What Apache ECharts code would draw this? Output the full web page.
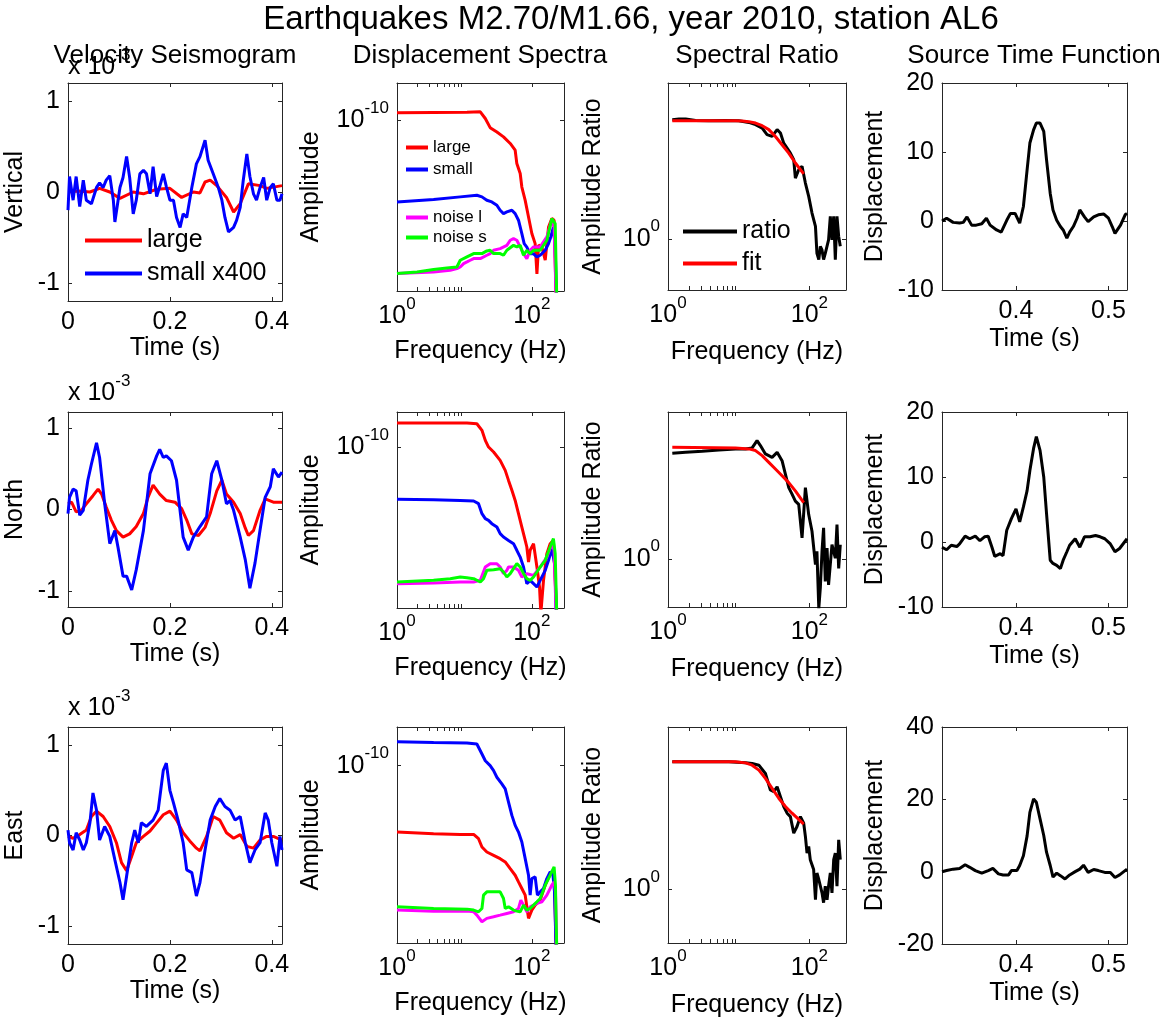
<!DOCTYPE html>
<html><head><meta charset="utf-8">
<script src="https://cdn.jsdelivr.net/npm/echarts@6/dist/echarts.min.js"></script>
<style>html,body{margin:0;padding:0;background:#fff;}#c{width:1162px;height:1019px;}</style>
</head><body><div id="c"></div>
<script>
// ---------------- DATA ----------------
// Velocity seismograms (time s, velocity x1e-3)
const vertLarge = [[0,0],[0.02,0.01],[0.043,0],[0.062,0.04],[0.082,0],[0.102,-0.07],[0.128,0],[0.148,-0.02],[0.174,0.03],[0.2,0.04],[0.223,-0.06],[0.246,0],[0.259,-0.01],[0.269,0.11],[0.279,0.13],[0.292,0.07],[0.311,-0.06],[0.325,-0.22],[0.338,-0.13],[0.354,0.09],[0.377,0.07],[0.39,0.04],[0.42,0.07]];
const vertSmall = [[0,-0.2],[0.003,0.17],[0.01,-0.09],[0.016,0.17],[0.023,-0.16],[0.03,0.13],[0.036,-0.09],[0.046,-0.13],[0.056,0.05],[0.062,0.1],[0.069,0.05],[0.075,0.13],[0.082,0.18],[0.089,-0.09],[0.092,-0.33],[0.102,0.05],[0.108,0.16],[0.115,0.39],[0.121,0.16],[0.128,-0.24],[0.134,-0.09],[0.141,0.2],[0.148,0.24],[0.154,0.2],[0.161,-0.02],[0.167,0.28],[0.174,-0.05],[0.18,0.06],[0.187,0.2],[0.193,0.06],[0.2,-0.09],[0.207,-0.09],[0.213,-0.28],[0.22,-0.39],[0.226,-0.24],[0.233,-0.28],[0.243,0.05],[0.252,0.31],[0.259,0.39],[0.269,0.57],[0.275,0.35],[0.285,0.2],[0.295,0.05],[0.302,-0.09],[0.308,-0.28],[0.315,-0.44],[0.325,-0.39],[0.331,-0.31],[0.338,-0.17],[0.344,0.13],[0.351,0.42],[0.357,0.17],[0.364,-0.02],[0.37,-0.09],[0.377,0.05],[0.384,0.16],[0.39,-0.09],[0.397,0.05],[0.403,0.09],[0.41,-0.09],[0.416,-0.09],[0.42,-0.02]];
const northLarge = [[0,0.07],[0.007,0.09],[0.016,-0.03],[0.026,-0.01],[0.036,0.07],[0.049,0.17],[0.059,0.25],[0.066,0.19],[0.075,0.03],[0.085,-0.13],[0.095,-0.26],[0.108,-0.34],[0.121,-0.3],[0.134,-0.21],[0.148,-0.05],[0.157,0.15],[0.167,0.3],[0.18,0.19],[0.193,0.11],[0.21,0.09],[0.223,0.01],[0.233,-0.13],[0.243,-0.3],[0.256,-0.32],[0.269,-0.22],[0.279,-0.05],[0.292,0.23],[0.302,0.36],[0.311,0.19],[0.325,0.09],[0.338,-0.05],[0.348,-0.23],[0.354,-0.32],[0.364,-0.26],[0.377,-0.01],[0.387,0.13],[0.403,0.09],[0.42,0.09]];
const northSmall = [[0,-0.05],[0.003,0.15],[0.01,0.25],[0.016,0.23],[0.023,-0.07],[0.03,-0.01],[0.039,0.36],[0.046,0.56],[0.056,0.82],[0.062,0.64],[0.072,0.07],[0.082,-0.42],[0.092,-0.26],[0.098,-0.46],[0.108,-0.82],[0.115,-0.82],[0.125,-0.99],[0.134,-0.74],[0.148,-0.26],[0.161,0.44],[0.174,0.66],[0.18,0.74],[0.187,0.64],[0.193,0.66],[0.203,0.6],[0.213,0.36],[0.226,-0.34],[0.236,-0.5],[0.246,-0.34],[0.259,-0.21],[0.272,-0.09],[0.282,0.44],[0.292,0.6],[0.302,0.36],[0.311,0.07],[0.318,0.11],[0.325,-0.01],[0.338,-0.34],[0.348,-0.62],[0.357,-0.97],[0.367,-0.66],[0.377,-0.25],[0.387,0.15],[0.397,0.28],[0.403,0.5],[0.413,0.4],[0.42,0.46]];
const eastLarge = [[0,-0.01],[0.01,-0.03],[0.023,0.01],[0.036,0.06],[0.046,0.21],[0.056,0.27],[0.069,0.21],[0.082,0.1],[0.095,-0.08],[0.105,-0.3],[0.115,-0.39],[0.125,-0.23],[0.134,-0.08],[0.148,-0.01],[0.161,0.05],[0.174,0.14],[0.187,0.23],[0.2,0.27],[0.213,0.17],[0.226,0.03],[0.239,-0.06],[0.252,-0.14],[0.259,-0.17],[0.272,-0.01],[0.285,0.21],[0.298,0.17],[0.311,0.03],[0.325,-0.03],[0.338,0.01],[0.351,-0.12],[0.364,-0.14],[0.377,-0.05],[0.39,-0.01],[0.403,-0.01],[0.42,-0.05]];
const eastSmall = [[0,0.06],[0.003,-0.08],[0.01,-0.16],[0.016,0.03],[0.023,-0.05],[0.03,-0.16],[0.036,-0.08],[0.043,0.14],[0.049,0.47],[0.056,0.28],[0.062,-0.05],[0.072,0.1],[0.082,-0.01],[0.092,-0.27],[0.102,-0.52],[0.108,-0.71],[0.115,-0.45],[0.125,-0.08],[0.131,0.06],[0.138,-0.08],[0.144,0.14],[0.154,0.1],[0.167,0.17],[0.177,0.28],[0.187,0.72],[0.193,0.8],[0.2,0.5],[0.207,0.36],[0.216,0.17],[0.226,-0.08],[0.233,-0.38],[0.243,-0.41],[0.252,-0.67],[0.259,-0.52],[0.269,-0.16],[0.279,0.17],[0.289,0.32],[0.298,0.41],[0.308,0.32],[0.318,0.28],[0.328,0.17],[0.338,0.21],[0.348,-0.08],[0.357,-0.3],[0.367,-0.16],[0.377,-0.08],[0.387,0.25],[0.393,0.17],[0.4,-0.08],[0.41,-0.34],[0.416,-0.01],[0.42,-0.16]];

// Displacement spectra (frequency Hz, amplitude)
const specVertLarge = [[1,1.35e-10],[3.49,1.37e-10],[10.9,1.38e-10],[17.2,1.4e-10],[20.4,1.07e-10],[24.1,7.4e-11],[30.3,6.2e-11],[38,5.1e-11],[47.8,3.9e-11],[56.6,2.97e-11],[59.9,1.73e-11],[67.2,1.16e-11],[71.1,6.7e-12],[79.7,3.9e-12],[89.3,2.0e-12],[100,1.02e-12],[112,6.8e-13],[119,2.0e-13],[126,6.4e-13],[141,5.9e-13],[158,3.5e-13],[177,1.33e-12],[198,1.87e-12],[214,1.75e-12],[229,8e-14]];
const specVertSmall = [[1,3.67e-12],[3.49,4.04e-12],[8.67,4.5e-12],[15.3,4.81e-12],[18.2,4.5e-12],[21.5,3.93e-12],[25.5,3.67e-12],[30.3,3.21e-12],[33.9,2.62e-12],[38,2.29e-12],[42.6,2.45e-12],[50.6,2.62e-12],[56.6,2.29e-12],[63.4,1.75e-12],[71.1,1.02e-12],[77,6.8e-13],[84.3,5.9e-13],[94.4,4.5e-13],[106,4.5e-13],[119,3.97e-13],[133,4.24e-13],[158,5.19e-13],[177,6.8e-13],[191,8.9e-13],[209,1.33e-12],[222,5.9e-13],[234,5e-14]];
const specVertNoiseL = [[1,2.02e-13],[3.49,2.16e-13],[6.17,2.31e-13],[7.74,2.47e-13],[8.67,2.64e-13],[9.72,3.03e-13],[10.9,3.24e-13],[12.2,3.47e-13],[13.7,3.71e-13],[17.2,3.71e-13],[21.5,4.24e-13],[24.1,4.54e-13],[27.1,5.19e-13],[33.9,5.55e-13],[42.6,6.35e-13],[47.8,7.78e-13],[53.5,8.3e-13],[59.9,7.78e-13],[67.2,5.94e-13],[75.3,4.54e-13],[84.3,3.71e-13],[94.4,5.19e-13],[106,5.94e-13],[133,5.94e-13],[167,8.9e-13],[198,1.75e-12],[214,1.33e-12],[229,8e-14]];
const specVertNoiseS = [[1,2.02e-13],[1.98,2.16e-13],[3.49,2.38e-13],[5.5,2.54e-13],[7.74,2.64e-13],[8.67,3.47e-13],[10.9,3.97e-13],[13.7,4.54e-13],[18.2,4.54e-13],[21.5,5.06e-13],[24.1,5.19e-13],[27.1,4.54e-13],[33.9,4.54e-13],[38,4.24e-13],[42.6,5.19e-13],[53.5,6.35e-13],[59.9,5.94e-13],[67.2,6.35e-13],[75.3,4.24e-13],[84.3,5.19e-13],[94.4,4.54e-13],[106,5.19e-13],[133,5.19e-13],[167,7.78e-13],[198,1.87e-12],[222,1.53e-12],[234,8e-14]];
const specNorthLarge = [[1,2.8e-10],[3.49,2.8e-10],[10.9,2.8e-10],[15.3,2.72e-10],[18.2,2.05e-10],[20.4,1.33e-10],[22.8,1.0e-10],[27.1,8.07e-11],[33.9,5.64e-11],[40.3,3.67e-11],[45.1,2.39e-11],[50.6,1.56e-11],[56.6,1.01e-11],[63.4,5.73e-12],[71.1,3.23e-12],[79.7,1.82e-12],[84.3,1.37e-12],[89.3,7.2e-13],[94.4,1.19e-12],[106,1.58e-12],[119,5.8e-13],[130,2.46e-13],[136,8e-14],[149,3.28e-13],[167,1.03e-12],[187,1.58e-12],[209,1.82e-12],[222,3.28e-13],[234,8e-14]];
const specNorthSmall = [[1,1.06e-11],[3.49,1.04e-11],[8.67,1.01e-11],[13.7,9.86e-12],[16.2,8.8e-12],[18.2,5.73e-12],[20.4,4.62e-12],[22.8,4.3e-12],[25.5,3.73e-12],[30.3,3.23e-12],[33.9,2.43e-12],[38,2.1e-12],[45.1,1.82e-12],[53.5,1.58e-12],[59.9,1.19e-12],[67.2,8.9e-13],[75.3,5.8e-13],[84.3,2.84e-13],[94.4,3.28e-13],[106,2.84e-13],[119,2.46e-13],[133,3.28e-13],[158,5.03e-13],[177,7.73e-13],[198,1.28e-12],[209,1.37e-12],[222,5.8e-13],[229,8e-14]];
const specNorthNoiseL = [[1,2.84e-13],[3.49,2.92e-13],[8.67,3.05e-13],[13.7,3.05e-13],[17.2,3.28e-13],[20.4,5.8e-13],[24.1,6.7e-13],[30.3,6.7e-13],[33.9,5.8e-13],[38,4.36e-13],[42.6,5.03e-13],[45.1,5.8e-13],[53.5,5.8e-13],[63.4,5.03e-13],[71.1,3.78e-13],[84.3,4.36e-13],[106,4.06e-13],[133,5.8e-13],[167,8.9e-13],[198,1.58e-12],[214,1.19e-12],[229,8e-14]];
const specNorthNoiseS = [[1,3.05e-13],[3.49,3.28e-13],[6.17,3.52e-13],[8.67,3.78e-13],[10.9,3.67e-13],[13.7,3.52e-13],[17.2,3.05e-13],[19.2,3.52e-13],[21.5,5.03e-13],[27.1,5.18e-13],[33.9,5.41e-13],[38,4.69e-13],[42.6,3.78e-13],[47.8,4.36e-13],[53.5,5.41e-13],[59.9,6.7e-13],[67.2,5.8e-13],[75.3,4.36e-13],[84.3,3.52e-13],[94.4,3.28e-13],[106,3.78e-13],[119,4.69e-13],[133,5.8e-13],[158,7.73e-13],[187,1.37e-12],[209,1.96e-12],[222,1.03e-12],[234,8e-14]];
const specEastLarge = [[1,7.52e-12],[3.49,7.05e-12],[8.67,6.87e-12],[13.7,6.87e-12],[16.2,5.8e-12],[18.2,4.2e-12],[21.5,3.46e-12],[27.1,3.04e-12],[33.9,2.67e-12],[40.3,2.35e-12],[47.8,1.81e-12],[56.6,1.4e-12],[63.4,1.08e-12],[71.1,8.34e-13],[79.7,6.44e-13],[89.3,2.61e-13],[100,3.6e-13],[112,4.37e-13],[133,5.31e-13],[158,9.5e-13],[183,1.4e-12],[205,1.59e-12],[217,1.08e-12],[229,8e-14]];
const specEastSmall = [[1,2.54e-10],[3.49,2.47e-10],[10.9,2.41e-10],[15.3,2.32e-10],[18.2,1.57e-10],[20.4,1.21e-10],[24.1,1.0e-10],[27.1,8.24e-11],[30.3,6.36e-11],[35.9,4.91e-11],[40.3,4.04e-11],[45.1,2.41e-11],[50.6,1.44e-11],[56.6,9.75e-12],[63.4,7.52e-12],[71.1,5.1e-12],[79.7,2.67e-12],[89.3,1.4e-12],[94.4,6.44e-13],[100,1.23e-12],[112,1.31e-12],[121,6.44e-13],[133,7.33e-13],[149,8.34e-13],[167,1.23e-12],[187,1.59e-12],[205,1.49e-12],[217,7.33e-13],[229,8e-14]];
const specEastNoiseL = [[1,3.6e-13],[3.49,3.46e-13],[10.9,3.46e-13],[13.7,3.37e-13],[15.3,2.96e-13],[18.2,2.29e-13],[21.5,2.61e-13],[27.1,2.78e-13],[33.9,2.96e-13],[42.6,3.16e-13],[53.5,3.37e-13],[63.4,3.84e-13],[68.7,5.31e-13],[75.3,4.37e-13],[84.3,3.37e-13],[94.4,4.09e-13],[106,4.37e-13],[119,4.67e-13],[141,4.98e-13],[167,6.44e-13],[198,9.5e-13],[214,1.08e-12],[224,7.33e-13],[234,8e-14]];
const specEastNoiseS = [[1,4.09e-13],[3.49,3.84e-13],[10.9,3.74e-13],[13.7,3.6e-13],[16.2,3.37e-13],[18.2,3.84e-13],[19.2,6.44e-13],[21.5,7.33e-13],[27.1,7.33e-13],[33.9,7.33e-13],[38,5.66e-13],[40.3,3.84e-13],[45.1,4.09e-13],[53.5,3.6e-13],[59.9,3.46e-13],[67.2,3.37e-13],[75.3,4.37e-13],[84.3,3.6e-13],[94.4,3.84e-13],[106,4.37e-13],[119,4.98e-13],[133,5.66e-13],[158,9.5e-13],[187,1.4e-12],[214,1.94e-12],[224,9.5e-13],[234,8e-14]];

// Spectral ratios and fits (frequency Hz, ratio)
const ratioVert = [[1.15,33.8],[1.43,34.5],[1.78,34.5],[2.46,33.1],[3.79,32.8],[6.52,33.1],[10,32.8],[13.9,31.2],[17.3,29.2],[21.5,26.4],[25.2,21.7],[29.7,20.6],[35,25.2],[39,22.8],[43.4,16.9],[48.4,14.6],[53.9,12.6],[60.1,10.4],[63.4,6.0],[70.7,7.7],[78.8,8.5],[87.9,5.19],[97.9,3.5],[109,2.14],[122,1.44],[128,0.65],[136,0.54],[143,0.8],[151,0.72],[159,0.54],[168,0.65],[187,0.97],[198,1.94],[209,0.97],[221,1.94],[233,0.54],[246,1.94],[260,1.07],[274,0.8]];
const fitVert = [[1.15,32.8],[5.25,32.8],[9,32.8],[11.2,32.5],[13.9,31.9],[17.3,30.6],[21.5,28.3],[26.7,25.2],[33.1,20.6],[41.1,16.1],[51.1,12.6],[63.4,9.4],[83.2,6.8]];
const ratioNorth = [[1.15,27.4],[1.78,28.2],[3.05,29.2],[5.25,30.4],[9,31.4],[12.5,31.4],[15.5,32.4],[18.2,40.8],[20.3,34.9],[23.9,26.8],[29.7,24.1],[35,28.2],[41.1,21.7],[45.8,14.2],[51.1,9.3],[56.9,7.6],[63.4,6.1],[70.7,5.5],[78.8,1.92],[87.9,9.3],[97.9,4.0],[109,2.37],[122,0.83],[128,1.26],[136,0.21],[143,0.4],[151,1.26],[159,2.64],[168,0.49],[178,1.4],[187,0.44],[209,1.56],[233,1.02],[246,2.93],[260,0.74],[274,1.56]];
const fitNorth = [[1.15,33.1],[9,32.4],[13.9,31.4],[17.3,29.8],[21.5,25.4],[26.7,20.6],[33.1,16.7],[41.1,13.5],[51.1,10.9],[63.4,8.4],[83.2,5.8]];
const ratioEast = [[1.15,37.3],[3.05,37.3],[7.26,37.3],[12.5,36.2],[15.5,35.6],[19.3,33.9],[23.9,26.8],[28.1,16.8],[31.4,16.0],[35,18.4],[39,13.9],[43.4,10.5],[48.4,8.7],[53.9,7.9],[60.1,4.94],[66.9,5.97],[74.7,7.9],[83.2,6.55],[87.9,4.5],[92.7,2.81],[97.9,3.4],[103,2.33],[115,1.76],[122,0.75],[128,1.6],[136,1.33],[151,0.91],[159,0.69],[168,1.1],[178,0.75],[187,1.1],[198,1.6],[209,0.91],[221,2.33],[233,2.81],[246,1.1],[260,4.1],[274,2.33]];
const fitEast = [[1.15,37.3],[9,37.3],[12.5,36.2],[15.5,33.9],[19.3,29.5],[23.9,23.3],[29.7,17.6],[36.9,13.3],[45.8,10.5],[56.9,8.7],[70.7,7.3],[83.2,6.4]];

// Source time functions (time s, displacement)
const stfVert = [[0.32,0],[0.325,0.4],[0.332,-0.2],[0.339,-0.3],[0.343,-0.2],[0.347,0.6],[0.352,-0.6],[0.357,-0.6],[0.363,-0.4],[0.368,0.4],[0.372,-0.6],[0.379,-1.3],[0.384,-1.6],[0.39,0.1],[0.394,1.1],[0.399,1.1],[0.404,-0.3],[0.406,-0.3],[0.408,2.1],[0.412,7.4],[0.415,11.3],[0.419,13.2],[0.422,14.2],[0.426,14.2],[0.43,13.0],[0.433,8.9],[0.437,4.0],[0.44,1.6],[0.444,0.1],[0.448,-0.8],[0.451,-1.3],[0.455,-2.5],[0.458,-1.6],[0.462,-0.8],[0.466,0.4],[0.469,1.6],[0.474,0.6],[0.478,-0.1],[0.484,0.6],[0.489,0.9],[0.495,1.0],[0.5,0.4],[0.504,-0.8],[0.507,-1.8],[0.513,-0.6],[0.518,0.9],[0.52,1.1]];
const stfNorth = [[0.32,-0.8],[0.325,-1.2],[0.33,-0.5],[0.336,-0.7],[0.339,-0.3],[0.345,0.9],[0.35,0.5],[0.356,0.9],[0.361,0.2],[0.366,0.8],[0.37,0.9],[0.374,-0.8],[0.377,-2.2],[0.383,-1.8],[0.386,-2.1],[0.39,1.8],[0.395,3.6],[0.4,5.1],[0.404,3.1],[0.408,5.4],[0.412,7.9],[0.415,11.0],[0.419,14.4],[0.422,16.2],[0.426,14.1],[0.43,10.0],[0.433,4.4],[0.437,-2.8],[0.44,-3.3],[0.444,-3.6],[0.448,-4.1],[0.451,-2.8],[0.455,-1.5],[0.458,-0.5],[0.464,0.5],[0.469,-0.8],[0.474,0.8],[0.48,0.8],[0.486,1.0],[0.491,0.8],[0.496,0.5],[0.502,-0.3],[0.507,-1.5],[0.512,-1.0],[0.52,0.5]];
const stfEast = [[0.32,0],[0.325,0.3],[0.332,0.7],[0.339,0.9],[0.345,1.9],[0.35,1.2],[0.356,0.3],[0.363,-0.4],[0.37,0.3],[0.375,0.9],[0.381,-0.6],[0.386,-0.9],[0.392,-0.9],[0.395,0.3],[0.401,0.3],[0.404,1.7],[0.408,4.4],[0.412,9.9],[0.415,16.4],[0.419,20.1],[0.422,19.2],[0.426,14.6],[0.43,10.0],[0.433,5.4],[0.437,1.7],[0.44,-1.5],[0.444,-0.4],[0.448,-1.1],[0.453,-2.0],[0.458,-0.9],[0.464,0],[0.469,0.7],[0.473,1.8],[0.478,-0.2],[0.484,0.6],[0.489,0.3],[0.496,-0.2],[0.502,-0.2],[0.507,-1.6],[0.512,-0.9],[0.52,0.7]];

// Tick values
const seisTicksX = [0, 0.2, 0.4];
const seisTicksY = [-1, 0, 1];
const freqLabels = [1, 100];
const freqTicks = [1, 2, 3, 4, 5, 6, 7, 8, 9, 100];
const specTicksY = [1e-10];
const ratioTicksY = [1];
const stfTicksX = [0.4, 0.5];
const stfTicksY12 = [-10, 0, 10, 20];
const stfTicksY3 = [-20, 0, 20, 40];

// Text
const mainTitle = 'Earthquakes M2.70/M1.66, year 2010, station AL6';
const colTitles = ['Velocity Seismogram', 'Displacement Spectra', 'Spectral Ratio', 'Source Time Function'];
const compNames = ['Vertical', 'North', 'East'];

// ---------------- CHART ----------------
const FF = '"Liberation Sans", Arial, Helvetica, sans-serif';
const AXC = '#262626', TXT = '#000';
const RED = '#ff0000', BLUE = '#0000ff', MAG = '#ff00ff', GRN = '#00ff00', BLK = '#000000';

function supFmt(v) { const e = Math.round(Math.log10(v)); return '{b|10}{s|' + e + '}'; }
const SUP_RICH = {
  b: { fontSize: 25, fontFamily: FF, color: TXT, verticalAlign: 'middle' },
  s: { fontSize: 17, fontFamily: FF, color: TXT, verticalAlign: 'top', padding: [0, 0, 24, 0] }
};

const grids = [], xAxes = [], yAxes = [], series = [];

function panel(box, c) {
  const gi = grids.length;
  grids.push({ left: box[0], top: box[1], width: box[2], height: box[3], show: false });
  const ls = { color: AXC, width: 1 };
  const mk = (type, min, max) => {
    const o = { gridIndex: gi, type: type, min: min, max: max, splitLine: { show: false }, splitArea: { show: false },
      axisLine: { show: true, onZero: false, lineStyle: ls }, axisPointer: { show: false }, silent: true };
    if (type === 'log') o.logBase = 10;
    return o;
  };
  const tick = (vals) => ({ show: true, inside: true, length: 4, customValues: vals, lineStyle: ls });
  const lab = (isLog, vals, margin) => {
    const o = { show: true, customValues: vals, fontSize: 25, fontFamily: FF, color: TXT, margin: margin, hideOverlap: false };
    if (isLog) { o.formatter = supFmt; o.rich = SUP_RICH; }
    return o;
  };
  const nameStyle = { fontSize: 25, fontFamily: FF, color: TXT };
  xAxes.push(Object.assign(mk(c.xType, c.xMin, c.xMax), { position: 'bottom', axisTick: tick(c.xTicks),
    axisLabel: lab(c.xType === 'log', c.xLabels, c.xType === 'log' ? 5 : 9),
    name: c.xName, nameLocation: 'middle', nameGap: c.xGap, nameTextStyle: nameStyle }));
  xAxes.push(Object.assign(mk(c.xType, c.xMin, c.xMax), { position: 'top', axisTick: tick(c.xTicks), axisLabel: { show: false } }));
  yAxes.push(Object.assign(mk(c.yType, c.yMin, c.yMax), { position: 'left', axisTick: tick(c.yTicks),
    axisLabel: lab(c.yType === 'log', c.yLabels, 8),
    name: c.yName, nameLocation: 'middle', nameGap: c.yGap, nameTextStyle: nameStyle }));
  yAxes.push(Object.assign(mk(c.yType, c.yMin, c.yMax), { position: 'right', axisTick: tick(c.yTicks), axisLabel: { show: false } }));
  c.lines.forEach(l => {
    series.push({ type: 'line', name: l.name, data: l.data, xAxisIndex: 2 * gi, yAxisIndex: 2 * gi,
      showSymbol: false, symbol: 'none', clip: true, animation: false, silent: true, color: l.color,
      lineStyle: { width: l.w || 3, color: l.color }, itemStyle: { color: l.color }, emphasis: { disabled: true } });
  });
}

const rowTops = [83, 412, 727];
const seisBoxes = [[68, 83, 214, 218], [68, 412, 214, 195], [68, 727, 214, 217]];
const specBoxes = [[397, 83, 167, 208], [397, 412, 167, 196], [397, 727, 167, 216]];
const ratioBoxes = [[668, 83, 178, 207], [668, 412, 178, 195], [668, 727, 178, 216]];
const stfBoxes = [[942, 83, 185, 207], [942, 412, 185, 195], [942, 727, 185, 217]];

const seisData = [[vertLarge, vertSmall], [northLarge, northSmall], [eastLarge, eastSmall]];
const specData = [[specVertLarge, specVertSmall, specVertNoiseL, specVertNoiseS],
                  [specNorthLarge, specNorthSmall, specNorthNoiseL, specNorthNoiseS],
                  [specEastLarge, specEastSmall, specEastNoiseL, specEastNoiseS]];
const ratioData = [[ratioVert, fitVert], [ratioNorth, fitNorth], [ratioEast, fitEast]];
const stfData = [stfVert, stfNorth, stfEast];

for (let r = 0; r < 3; r++) {
  panel(seisBoxes[r], { xType: 'value', xMin: 0, xMax: 0.42, xTicks: seisTicksX, xLabels: seisTicksX, xName: 'Time (s)', xGap: 35,
    yType: 'value', yMin: -1.2, yMax: 1.2, yTicks: seisTicksY, yLabels: seisTicksY, yName: compNames[r], yGap: 40,
    lines: [{ name: 'large', data: seisData[r][0], color: RED }, { name: 'small x400', data: seisData[r][1], color: BLUE }] });
  panel(specBoxes[r], { xType: 'log', xMin: 1, xMax: 300, xTicks: freqTicks, xLabels: freqLabels, xName: 'Frequency (Hz)', xGap: 48,
    yType: 'log', yMin: 1e-13, yMax: 4.5e-10, yTicks: specTicksY, yLabels: specTicksY, yName: 'Amplitude', yGap: 73,
    lines: [{ name: 'large', data: specData[r][0], color: RED }, { name: 'small', data: specData[r][1], color: BLUE },
            { name: 'noise l', data: specData[r][2], color: MAG }, { name: 'noise s', data: specData[r][3], color: GRN }] });
  panel(ratioBoxes[r], { xType: 'log', xMin: 1, xMax: 330, xTicks: freqTicks, xLabels: freqLabels, xName: 'Frequency (Hz)', xGap: 50,
    yType: 'log', yMin: 0.22, yMax: 100, yTicks: ratioTicksY, yLabels: ratioTicksY, yName: 'Amplitude Ratio', yGap: 62,
    lines: [{ name: 'ratio', data: ratioData[r][0], color: BLK }, { name: 'fit', data: ratioData[r][1], color: RED }] });
  const sy = r === 2 ? stfTicksY3 : stfTicksY12;
  panel(stfBoxes[r], { xType: 'value', xMin: 0.32, xMax: 0.52, xTicks: stfTicksX, xLabels: stfTicksX, xName: 'Time (s)', xGap: 37,
    yType: 'value', yMin: sy[0], yMax: sy[sy.length - 1], yTicks: sy, yLabels: sy, yName: 'Displacement', yGap: 54,
    lines: [{ name: 'stf', data: stfData[r], color: BLK }] });
}

const legendBase = { orient: 'vertical', icon: 'rect', itemHeight: 4, padding: 0, selectedMode: false };
const legends = [
  Object.assign({}, legendBase, { data: ['large', 'small x400'], left: 85, top: 228, itemWidth: 57, itemGap: 8, textStyle: { fontSize: 25, fontFamily: FF, color: TXT } }),
  Object.assign({}, legendBase, { data: ['large', 'small'], left: 406, top: 139, itemWidth: 22, itemGap: 5, textStyle: { fontSize: 17, fontFamily: FF, color: TXT } }),
  Object.assign({}, legendBase, { data: ['noise l', 'noise s'], left: 406, top: 209, itemWidth: 22, itemGap: 3, textStyle: { fontSize: 17, fontFamily: FF, color: TXT } }),
  Object.assign({}, legendBase, { data: ['ratio', 'fit'], left: 683, top: 219, itemWidth: 54, itemGap: 7, textStyle: { fontSize: 25, fontFamily: FF, color: TXT } })
];

const gtext = (x, y, text, size, align) => ({ type: 'text', x: x, y: y, silent: true, z: 100,
  style: { text: text, fontSize: size, fontFamily: FF, fill: TXT, textAlign: align || 'center', textVerticalAlign: 'middle', align: align || 'center', verticalAlign: 'middle' } });
const X10_RICH = { b: { fontSize: 25, fontFamily: FF, fill: TXT, color: TXT, verticalAlign: 'middle' },
                   s: { fontSize: 17, fontFamily: FF, fill: TXT, color: TXT, verticalAlign: 'top', padding: [0, 0, 24, 0] } };
const x10 = (y) => ({ type: 'text', x: 68, y: y, silent: true, z: 100,
  style: { text: '{b|x 10}{s|-3}', rich: X10_RICH, fill: TXT, textAlign: 'left', textVerticalAlign: 'middle', align: 'left', verticalAlign: 'middle' } });

const graphics = [
  gtext(631, 20, mainTitle, 33),
  gtext(175, 56, colTitles[0], 26),
  gtext(480, 56, colTitles[1], 26),
  gtext(757, 56, colTitles[2], 26),
  gtext(1034, 56, colTitles[3], 26),
  x10(rowTops[0] - 16), x10(rowTops[1] - 19), x10(rowTops[2] - 19)
];

const chart = echarts.init(document.getElementById('c'), null, { renderer: 'canvas' });
chart.setOption({
  animation: false,
  backgroundColor: '#ffffff',
  textStyle: { fontFamily: FF },
  grid: grids, xAxis: xAxes, yAxis: yAxes, series: series,
  legend: legends,
  graphic: { elements: graphics }
});
</script></body></html>
